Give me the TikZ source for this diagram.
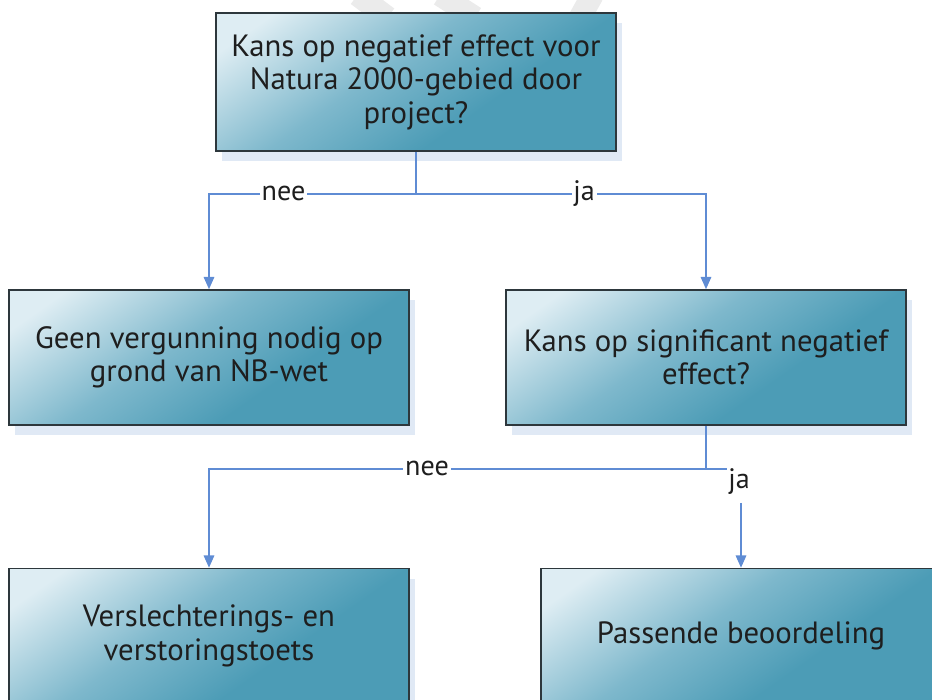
\documentclass[tikz,border=0pt]{standalone}
\usepackage{fontspec}
\setmainfont{PT Sans}
\usetikzlibrary{arrows.meta,positioning,shadows}

\definecolor{boxlicht}{RGB}{222,237,243}
\definecolor{boxmidden}{RGB}{126,184,204}
\definecolor{boxdonker}{RGB}{76,156,182}
\definecolor{boxrand}{RGB}{45,55,60}
\definecolor{schaduw}{RGB}{224,233,245}
\definecolor{lijn}{RGB}{95,140,212}
\definecolor{tekst}{RGB}{30,30,30}
\pgfdeclarehorizontalshading{stapshade}{100bp}{color(0bp)=(boxlicht); color(22bp)=(boxlicht); color(44bp)=(boxmidden); color(62bp)=(boxdonker); color(100bp)=(boxdonker)}

\begin{document}
\begin{tikzpicture}[>={Triangle[length=7pt,width=6pt]},on grid,font=\fontsize{17.5}{19}\selectfont]
\tikzstyle{stap} = [rectangle,draw=boxrand,line width=0.9pt,minimum width=8cm,minimum height=2.7cm,align=center,text=tekst,shading=stapshade,shading angle=-55,drop shadow={shadow xshift=0.12cm,shadow yshift=-0.2cm,fill=schaduw,opacity=1}]
\tikzstyle{keuze} = [fill=white,inner sep=1pt,text=tekst,font=\fontsize{16}{18}\selectfont]
\tikzstyle{watermerk} = [black!8,line width=0.45cm]
    \useasboundingbox (0,0) rectangle (18.64,-14);
    % watermerk bovenaan
    \draw[watermerk] (7.15,0.1) -- (7.75,-0.35);
    \draw[watermerk] (8.8,0.1) -- (9.5,-0.35);
    \draw[watermerk] (11.85,0.1) -- (11.6,-0.35);

    \node[stap,minimum height=2.76cm] (kans) at (8.32,-1.64) {Kans op negatief effect voor\\Natura 2000-gebied door\\project?};
    \node[stap] (geen) [below left =5.51cm and 4.14cm of kans] {Geen vergunning nodig op\\grond van NB-wet};
    \node[stap] (signif) [right =9.94cm of geen] {Kans op significant negatief\\effect?};
    \node[stap] (toets) [below =5.57cm of geen] {Verslechterings- en\\verstoringstoets};
    \node[stap] (passend) [below right =5.57cm and 0.7cm of signif] {Passende beoordeling};

    \tikzset{mystyle/.style={->,draw=lijn,line width=0.9pt}}
    \tikzset{lijnstijl/.style={draw=lijn,line width=0.9pt}}
    % eerste vraag
    \coordinate (split1) at ([yshift=-0.84cm]kans.south);
    \draw[lijnstijl] (kans.south) -- (split1);
    \draw[mystyle] (split1) -| node[keuze,pos=0.32] {nee} (geen.north);
    \draw[mystyle] (split1) -| node[keuze,pos=0.29] {ja} (signif.north);
    % tweede vraag
    \coordinate (split2) at ([yshift=-0.86cm]signif.south);
    \coordinate (eind2) at ([xshift=0.44cm]split2);
    \draw[lijnstijl] (signif.south) -- (split2);
    \draw[mystyle] (eind2) -| node[keuze,pos=0.29] {nee} (toets.north);
    \node[keuze] (ja2) at ([xshift=0.66cm,yshift=-0.26cm]split2) {ja};
    \coordinate (start2) at ([yshift=-0.68cm]split2 -| passend.north);
    \draw[mystyle] (start2) -- (passend.north);
\end{tikzpicture}
\end{document}
